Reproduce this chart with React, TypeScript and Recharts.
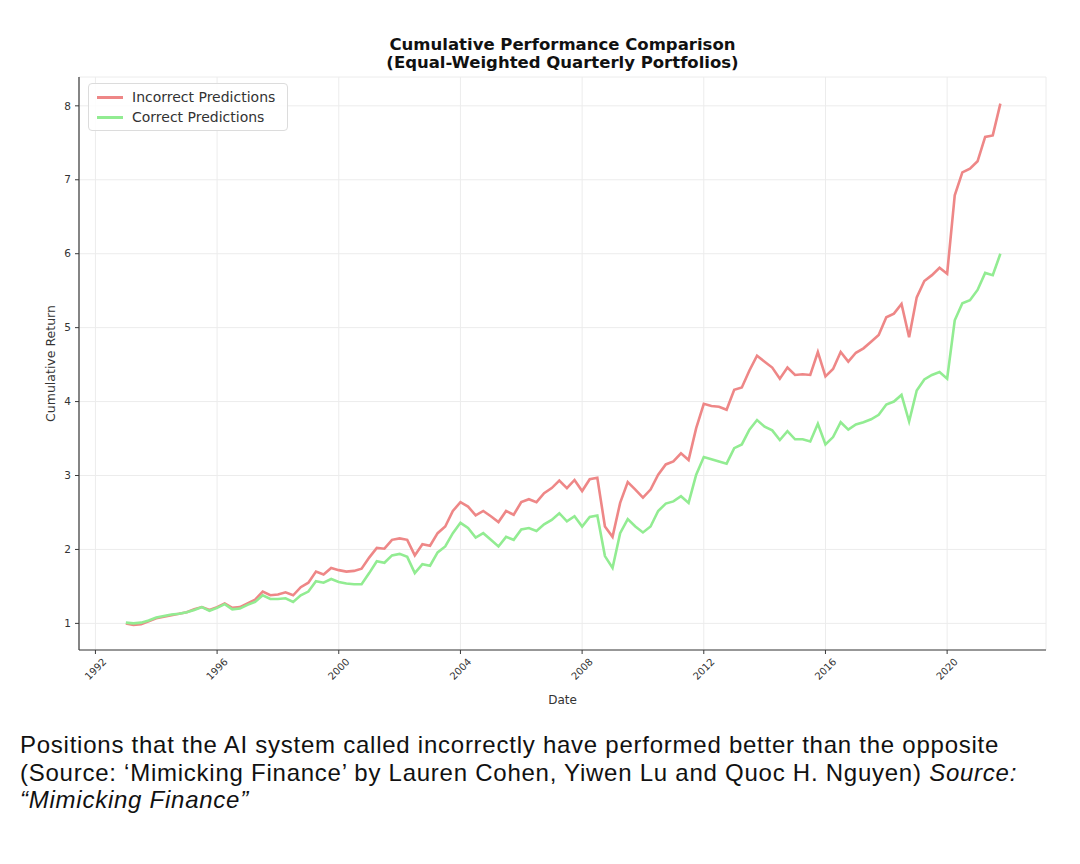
import React from 'react';
import { LineChart, Line, XAxis, YAxis, CartesianGrid, Legend, Label } from 'recharts';

const START_YEAR = 1993; // first quarter-end in the series

const incorrect = [
  1.00, 0.98, 0.99, 1.03, 1.07, 1.09, 1.11, 1.13,
  1.15, 1.19, 1.22, 1.18, 1.22, 1.27, 1.21, 1.22,
  1.27, 1.32, 1.43, 1.38, 1.39, 1.42, 1.38, 1.49,
  1.55, 1.70, 1.66, 1.75, 1.72, 1.70, 1.71, 1.74,
  1.89, 2.02, 2.01, 2.13, 2.15, 2.13, 1.92, 2.07,
  2.05, 2.22, 2.31, 2.52, 2.64, 2.58, 2.46, 2.52,
  2.45, 2.37, 2.52, 2.47, 2.64, 2.68, 2.64, 2.76,
  2.83, 2.93, 2.83, 2.94, 2.79, 2.95, 2.97, 2.31,
  2.17, 2.63, 2.91, 2.81, 2.70, 2.81, 3.01, 3.15,
  3.19, 3.30, 3.21, 3.64, 3.97, 3.94, 3.93, 3.89,
  4.16, 4.19, 4.42, 4.62, 4.54, 4.46, 4.31, 4.46,
  4.36, 4.37, 4.36, 4.67, 4.34, 4.44, 4.67, 4.54,
  4.66, 4.72, 4.81, 4.90, 5.14, 5.19, 5.32, 4.87,
  5.41, 5.63, 5.71, 5.81, 5.73, 6.79, 7.10, 7.15,
  7.25, 7.58, 7.60, 8.03,
];

const correct = [
  1.01, 1.00, 1.01, 1.04, 1.08, 1.10, 1.12, 1.13,
  1.15, 1.18, 1.22, 1.17, 1.21, 1.26, 1.19, 1.20,
  1.25, 1.29, 1.38, 1.33, 1.33, 1.34, 1.29, 1.38,
  1.43, 1.57, 1.55, 1.60, 1.56, 1.54, 1.53, 1.53,
  1.68, 1.84, 1.82, 1.92, 1.94, 1.90, 1.68, 1.80,
  1.78, 1.96, 2.04, 2.22, 2.36, 2.29, 2.16, 2.22,
  2.13, 2.04, 2.17, 2.13, 2.27, 2.29, 2.25, 2.34,
  2.40, 2.49, 2.38, 2.45, 2.31, 2.44, 2.46, 1.91,
  1.75, 2.22, 2.41, 2.31, 2.23, 2.31, 2.52, 2.62,
  2.65, 2.72, 2.63, 3.01, 3.25, 3.22, 3.19, 3.16,
  3.37, 3.42, 3.62, 3.75, 3.66, 3.61, 3.48, 3.60,
  3.49, 3.49, 3.46, 3.70, 3.42, 3.52, 3.72, 3.62,
  3.69, 3.72, 3.76, 3.82, 3.96, 4.00, 4.09, 3.73,
  4.15, 4.30, 4.36, 4.40, 4.31, 5.10, 5.33, 5.37,
  5.51, 5.74, 5.71, 6.00,
];

const seriesNames = ['Incorrect Predictions', 'Correct Predictions'];
const xTicks = [1992, 1996, 2000, 2004, 2008, 2012, 2016, 2020];
const yTicks = [1, 2, 3, 4, 5, 6, 7, 8];
const xDomain = [1991.46, 2023.25];
const yDomain = [0.64, 8.39];

const data = incorrect.map((v, i) => ({
  date: START_YEAR + i / 4,
  incorrect: v,
  correct: correct[i],
}));

const FONT = '"DejaVu Sans", Verdana, sans-serif';
const TXT = '#333333';
const SPINE = '#3a3a3a';
const RED = '#EE8787';
const GREEN = '#92EC92';

const XTick = (props: any) => {
  const { x, y, payload } = props;
  return (
    <g transform={`translate(${x},${y + 13})`}>
      <text
        transform="rotate(-45)"
        textAnchor="middle"
        dominantBaseline="central"
        fontSize={10}
        fill={TXT}
        fontFamily={FONT}
      >
        {payload.value}
      </text>
    </g>
  );
};

const LegendBox = (props: any) => {
  const payload = [...(props.payload || [])].sort(
    (a: any, b: any) => seriesNames.indexOf(a.value) - seriesNames.indexOf(b.value)
  );
  return (
    <div
      style={{
        border: '1px solid #dcdcdc',
        borderRadius: 4,
        background: 'rgba(255,255,255,0.85)',
        padding: '3px 12px 3px 8px',
        fontFamily: FONT,
        fontSize: 14,
        color: TXT,
        width: 'max-content',
      }}
    >
      {payload.map((p: any) => (
        <div key={p.value} style={{ display: 'flex', alignItems: 'center', height: 20 }}>
          <span
            style={{
              display: 'inline-block',
              width: 26,
              height: 3,
              background: p.color,
              marginRight: 9,
            }}
          />
          <span>{p.value}</span>
        </div>
      ))}
    </div>
  );
};

export default function App() {
  return (
    <div
      style={{
        position: 'absolute',
        left: 0,
        top: 0,
        width: 1080,
        height: 864,
        background: '#ffffff',
        overflow: 'hidden',
      }}
    >
      <div
        style={{
          position: 'absolute',
          left: 0,
          top: 36,
          width: 1125,
          textAlign: 'center',
          fontFamily: FONT,
          fontWeight: 'bold',
          fontSize: 16.5,
          lineHeight: '18px',
          color: '#111',
        }}
      >
        Cumulative Performance Comparison
        <br />
        (Equal-Weighted Quarterly Portfolios)
      </div>
      <div style={{ position: 'absolute', left: 0, top: 0 }}>
        <LineChart
          width={1080}
          height={720}
          data={data}
          margin={{ top: 77, right: 34, left: 39, bottom: 16 }}
        >
          <CartesianGrid stroke="#ececec" strokeWidth={1} />
          <XAxis
            dataKey="date"
            type="number"
            domain={xDomain}
            ticks={xTicks}
            allowDataOverflow
            height={54}
            tickSize={4}
            tickMargin={2}
            tick={<XTick />}
            axisLine={{ stroke: SPINE, strokeWidth: 1.2 }}
            tickLine={{ stroke: SPINE }}
          >
            <Label
              value="Date"
              position="insideBottom"
              offset={0}
              style={{ fontFamily: FONT, fontSize: 12, fill: TXT }}
            />
          </XAxis>
          <XAxis
            xAxisId="top"
            orientation="top"
            type="number"
            domain={xDomain}
            allowDataOverflow
            height={0}
            tick={false}
            tickLine={false}
            axisLine={{ stroke: SPINE, strokeWidth: 1.2 }}
          />
          <YAxis
            type="number"
            domain={yDomain}
            ticks={yTicks}
            allowDataOverflow
            width={40}
            tickSize={4}
            tickMargin={4}
            tick={{ fontSize: 10.5, fill: TXT, fontFamily: FONT }}
            axisLine={{ stroke: SPINE, strokeWidth: 1.2 }}
            tickLine={{ stroke: SPINE }}
          >
            <Label
              content={(p: any) => {
                const vb = p.viewBox || {};
                const cx = vb.x + 11;
                const cy = vb.y + vb.height / 2;
                return (
                  <text
                    x={cx}
                    y={cy}
                    transform={`rotate(-90 ${cx} ${cy})`}
                    textAnchor="middle"
                    dominantBaseline="central"
                    fontFamily={FONT}
                    fontSize={12.5}
                    fill={TXT}
                  >
                    Cumulative Return
                  </text>
                );
              }}
            />
          </YAxis>
          <YAxis
            yAxisId="right"
            orientation="right"
            type="number"
            domain={yDomain}
            allowDataOverflow
            width={0}
            tick={false}
            tickLine={false}
            axisLine={{ stroke: SPINE, strokeWidth: 1.2 }}
          />
          <Legend
            verticalAlign="middle"
            align="center"
            layout="vertical"
            content={<LegendBox />}
            wrapperStyle={{ position: 'absolute', left: 88, top: 83, width: 'auto' }}
          />
          <Line
            type="linear"
            dataKey="incorrect"
            name={seriesNames[0]}
            stroke={RED}
            strokeWidth={2.6}
            dot={false}
            isAnimationActive={false}
          />
          <Line
            type="linear"
            dataKey="correct"
            name={seriesNames[1]}
            stroke={GREEN}
            strokeWidth={2.6}
            dot={false}
            isAnimationActive={false}
          />
        </LineChart>
      </div>
      <div
        style={{
          position: 'absolute',
          left: 20,
          top: 731,
          fontFamily: '"Liberation Sans", Arial, sans-serif',
          fontSize: 24,
          letterSpacing: 0.75,
          lineHeight: '27.5px',
          color: '#111',
          whiteSpace: 'nowrap',
        }}
      >
        Positions that the AI system called incorrectly have performed better than the opposite
        <br />
        (Source: ‘Mimicking Finance’ by Lauren Cohen, Yiwen Lu and Quoc H. Nguyen){' '}
        <i>Source:</i>
        <br />
        <i>“Mimicking Finance”</i>
      </div>
    </div>
  );
}
